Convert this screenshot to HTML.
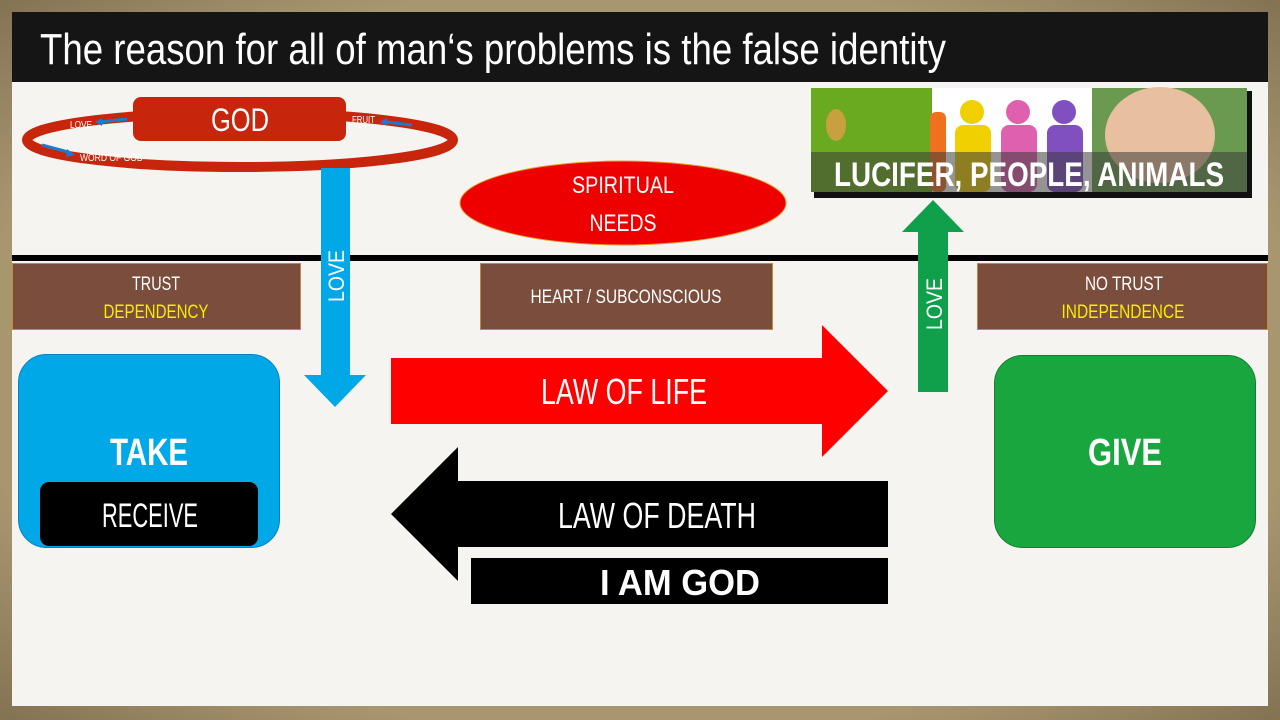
<!DOCTYPE html>
<html><head><meta charset="utf-8"><style>
html,body{margin:0;padding:0;background:#9a8766;}
svg{display:block}
text{font-family:"Liberation Sans Narrow","Liberation Sans",sans-serif;}
</style></head><body>
<svg width="1280" height="720" viewBox="0 0 1280 720" xmlns="http://www.w3.org/2000/svg">
<defs>
<radialGradient id="fr" cx="50%" cy="50%" r="75%"><stop offset="0.7" stop-color="#a8966f"/><stop offset="1" stop-color="#7a6a4c"/></radialGradient>
</defs>
<rect width="1280" height="720" fill="url(#fr)"/>
<rect x="12" y="12" width="1256" height="694" fill="#f6f4f0"/>
<rect x="12" y="12" width="1256" height="70" fill="#151515"/>
<text x="40" y="64" font-size="44" fill="#fff" textLength="906" lengthAdjust="spacingAndGlyphs">The reason for all of man‘s problems is the false identity</text>

<!-- Line -->
<rect x="12" y="255" width="1256" height="6" fill="#000"/>

<!-- GOD ring -->
<ellipse cx="240" cy="140" rx="213" ry="27" fill="none" stroke="#c8260c" stroke-width="10"/>
<rect x="133" y="97" width="213" height="44" rx="8" fill="#c8260c"/>
<text x="240" y="131" font-size="32" fill="#fff" text-anchor="middle" textLength="58" lengthAdjust="spacingAndGlyphs">GOD</text>
<text x="70" y="128" font-size="10" fill="#fff" textLength="22" lengthAdjust="spacingAndGlyphs">LOVE</text>
<line x1="100" y1="122" x2="127" y2="119" stroke="#1a7ad0" stroke-width="3"/>
<polygon points="95,122 102,118 102,126" fill="#1a7ad0"/>
<text x="352" y="123" font-size="10" fill="#fff" textLength="23" lengthAdjust="spacingAndGlyphs">FRUIT</text>
<line x1="386" y1="122" x2="412" y2="125" stroke="#1a7ad0" stroke-width="3"/>
<polygon points="380,122 387,118 387,126" fill="#1a7ad0"/>
<line x1="42" y1="145" x2="68" y2="152" stroke="#1a7ad0" stroke-width="3"/>
<polygon points="75,155 67,149 66,157" fill="#1a7ad0"/>
<text x="80" y="161" font-size="10" fill="#fff" textLength="63" lengthAdjust="spacingAndGlyphs">WORD OF GOD</text>

<!-- Blue arrow -->
<polygon points="321,168 350,168 350,375 366,375 335,407 304,375 321,375" fill="#00a8e8"/>
<text transform="translate(344,302) rotate(-90)" font-size="22" fill="#fff" textLength="52" lengthAdjust="spacingAndGlyphs">LOVE</text>

<!-- Spiritual needs -->
<ellipse cx="623" cy="203" rx="163" ry="42" fill="#ee0000" stroke="#e0a030" stroke-width="1"/>
<text x="623" y="193" font-size="24" fill="#fff" text-anchor="middle" textLength="102" lengthAdjust="spacingAndGlyphs">SPIRITUAL</text>
<text x="623" y="231" font-size="24" fill="#fff" text-anchor="middle" textLength="67" lengthAdjust="spacingAndGlyphs">NEEDS</text>

<!-- Image -->
<rect x="814" y="91" width="438" height="107" fill="#111"/>
<rect x="811" y="88" width="121" height="104" fill="#6aaa20"/>
<ellipse cx="836" cy="125" rx="10" ry="16" fill="#c8a040"/>
<rect x="932" y="88" width="160" height="104" fill="#fff"/>
<rect x="930" y="112" width="16" height="80" rx="6" fill="#f07020"/>
<circle cx="972" cy="112" r="12" fill="#f0d000"/><rect x="955" y="125" width="36" height="67" rx="8" fill="#f0d000"/>
<circle cx="1018" cy="112" r="12" fill="#e060b0"/><rect x="1001" y="125" width="36" height="67" rx="8" fill="#e060b0"/>
<circle cx="1064" cy="112" r="12" fill="#8050c0"/><rect x="1047" y="125" width="36" height="67" rx="8" fill="#8050c0"/>
<rect x="1092" y="88" width="155" height="104" fill="#6a9a50"/>
<ellipse cx="1160" cy="135" rx="55" ry="48" fill="#e8c0a0"/>
<rect x="811" y="152" width="436" height="40" fill="rgba(60,60,60,0.55)"/>
<text x="1029" y="186" font-size="34" font-weight="bold" fill="#fff" text-anchor="middle" textLength="390" lengthAdjust="spacingAndGlyphs">LUCIFER, PEOPLE, ANIMALS</text>

<polygon points="918,392 948,392 948,232 964,232 933,200 902,232 918,232" fill="#10a04c"/>
<text transform="translate(942,330) rotate(-90)" font-size="22" fill="#fff" textLength="52" lengthAdjust="spacingAndGlyphs">LOVE</text>

<!-- Brown boxes -->
<rect x="12.5" y="263.5" width="288" height="66" fill="#7a4d3c" stroke="#c08a40"/>
<text x="156" y="290" font-size="19" fill="#fff" text-anchor="middle" textLength="48" lengthAdjust="spacingAndGlyphs">TRUST</text>
<text x="156" y="318" font-size="19" fill="#f5ee00" text-anchor="middle" textLength="105" lengthAdjust="spacingAndGlyphs">DEPENDENCY</text>
<rect x="480.5" y="263.5" width="292" height="66" fill="#7a4d3c" stroke="#c08a40"/>
<text x="626" y="303" font-size="19" fill="#fff" text-anchor="middle" textLength="191" lengthAdjust="spacingAndGlyphs">HEART / SUBCONSCIOUS</text>
<rect x="977.5" y="263.5" width="290" height="66" fill="#7a4d3c" stroke="#c08a40"/>
<text x="1124" y="290" font-size="19" fill="#fff" text-anchor="middle" textLength="78" lengthAdjust="spacingAndGlyphs">NO TRUST</text>
<text x="1123" y="318" font-size="19" fill="#f5ee00" text-anchor="middle" textLength="123" lengthAdjust="spacingAndGlyphs">INDEPENDENCE</text>

<!-- Take -->
<rect x="18.5" y="354.5" width="261" height="193" rx="28" fill="#00a8e8" stroke="#0a80c0"/>
<text x="149" y="465" font-size="38" font-weight="bold" fill="#fff" text-anchor="middle" textLength="78" lengthAdjust="spacingAndGlyphs">TAKE</text>
<rect x="40" y="482" width="218" height="64" rx="9" fill="#000"/>
<text x="150" y="527" font-size="34" fill="#fff" text-anchor="middle" textLength="96" lengthAdjust="spacingAndGlyphs">RECEIVE</text>

<!-- Law of life -->
<polygon points="391,358 822,358 822,325 888,391 822,457 822,424 391,424" fill="#ff0000"/>
<text x="624" y="404" font-size="36" fill="#fff" text-anchor="middle" textLength="166" lengthAdjust="spacingAndGlyphs">LAW OF LIFE</text>

<!-- Law of death -->
<polygon points="888,481 458,481 458,447 391,514 458,581 458,547 888,547" fill="#000"/>
<text x="657" y="528" font-size="36" fill="#fff" text-anchor="middle" textLength="198" lengthAdjust="spacingAndGlyphs">LAW OF DEATH</text>
<rect x="471" y="558" width="417" height="46" fill="#000"/>
<text x="680" y="595" font-size="36" font-weight="bold" fill="#fff" text-anchor="middle" textLength="160" lengthAdjust="spacingAndGlyphs">I AM GOD</text>

<!-- Give -->
<rect x="994.5" y="355.5" width="261" height="192" rx="28" fill="#1aa63e" stroke="#108030"/>
<text x="1125" y="465" font-size="38" font-weight="bold" fill="#fff" text-anchor="middle" textLength="74" lengthAdjust="spacingAndGlyphs">GIVE</text>
</svg>
</body></html>
